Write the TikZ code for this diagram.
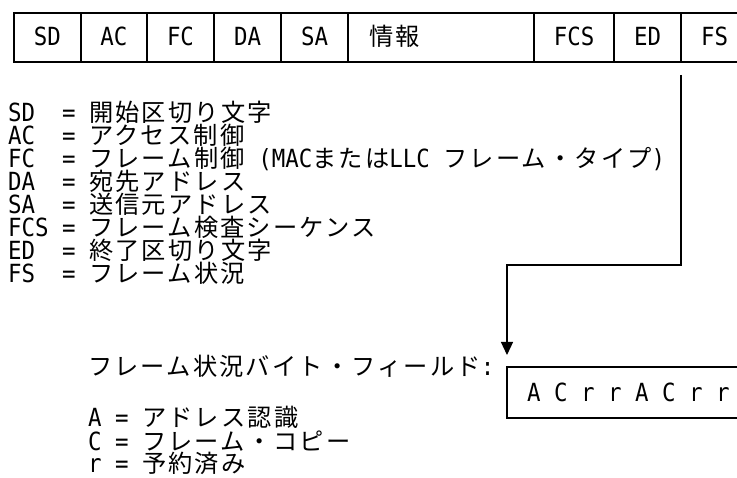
\documentclass[tikz,border=0pt]{standalone}
\usepackage{fontspec}
\setmainfont{DejaVu Sans Mono}[FakeStretch=0.897]
\newfontfamily\cjk{Noto Sans CJK JP}[Scale=0.97,LetterSpace=8.9]
\usetikzlibrary{arrows.meta}
\begin{document}
\begin{tikzpicture}[x=1pt,y=-1pt,
  txt/.style={inner sep=0pt, font=\fontsize{25}{25}\selectfont},
  lbl/.style={txt, anchor=base west},
  cell/.style={txt, anchor=base},
  rule/.style={line width=1.2pt, line cap=rect},
  conn/.style={line width=1.2pt, -{Triangle[length=13pt,width=12pt]}}]
\useasboundingbox[fill=white] (0,0) rectangle (737,478);
% frame fields row
\draw[rule] (737,13) -- (14,13) -- (14,62) -- (737,62);
\foreach \x in {81,147,214,281,348,534,614,681}
  \draw[rule] (\x,13) -- (\x,62);
\node[cell] (sd) at (47.5,46) {SD};
\node[cell] (ac) at (114,46) {AC};
\node[cell] (fc) at (180.5,46) {FC};
\node[cell] (da) at (247.5,46) {DA};
\node[cell] (sa) at (314.5,46) {SA};
\node[lbl] (info) at (369,46) {\cjk 情報};
\node[cell] (fcs) at (574,46) {FCS};
\node[cell] (ed) at (647.5,46) {ED};
\node[cell] (fs) at (714.5,46) {FS};
% legend
\node[lbl] (l1) at (8,122) {SD\ \ =\ {\cjk 開始区切り文字}};
\node[lbl] (l2) at (8,145) {AC\ \ =\ {\cjk アクセス制御}};
\node[lbl] (l3) at (8,168) {FC\ \ =\ {\cjk フレーム制御}\ (MAC{\cjk または}LLC\ {\cjk フレーム・タイプ})};
\node[lbl] (l4) at (8,191) {DA\ \ =\ {\cjk 宛先アドレス}};
\node[lbl] (l5) at (8,214) {SA\ \ =\ {\cjk 送信元アドレス}};
\node[lbl] (l6) at (8,237) {FCS\ =\ {\cjk フレーム検査シーケンス}};
\node[lbl] (l7) at (8,260) {ED\ \ =\ {\cjk 終了区切り文字}};
\node[lbl] (l8) at (8,283) {FS\ \ =\ {\cjk フレーム状況}};
% frame status byte
\node[lbl] (fsb) at (88,376) {{\cjk フレーム状況バイト・フィールド}:};
\draw[rule] (737,367) -- (507,367) -- (507,418) -- (737,418);
\node[lbl] (bits) at (527,402) {A C r r A C r r};
\node[lbl] (ka) at (88,427) {A = {\cjk アドレス認識}};
\node[lbl] (kc) at (88,450) {C = {\cjk フレーム・コピー}};
\node[lbl] (kr) at (88,473) {r = {\cjk 予約済み}};
% connector
\coordinate (fsout) at (681,75);
\coordinate (bend) at (507,265);
\coordinate (tip) at (507,355);
\draw[conn] (fsout) |- (bend) -- (tip);
\end{tikzpicture}
\end{document}
